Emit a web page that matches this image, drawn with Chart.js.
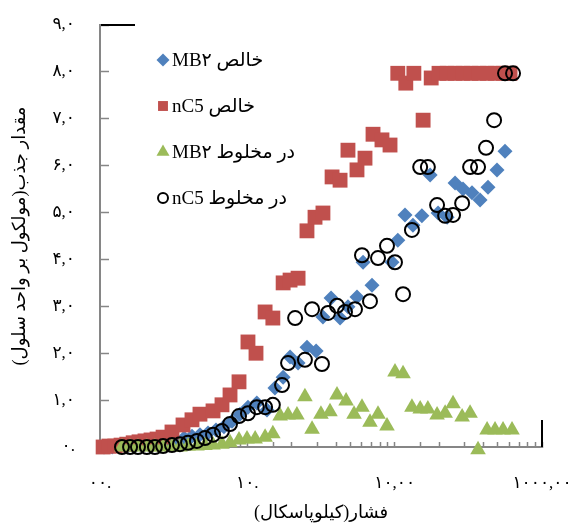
<!DOCTYPE html>
<html>
<head>
<meta charset="utf-8">
<script src="https://cdn.jsdelivr.net/npm/chart.js@4.4.1/dist/chart.umd.min.js"></script>
<style>
  html, body { margin: 0; padding: 0; background: #fff; }
  canvas { display: block; }
</style>
</head>
<body>
<canvas id="isoChart" width="581" height="525"></canvas>
<script>
// pressure (kPa) and loading (molecules per unit cell)
var seriesNames = ['MB۲ خالص', 'nC5 خالص', 'MB۲ در مخلوط', 'nC5 در مخلوط'];

var mb2PureP = [1.065, 1.21, 1.37, 1.55, 1.76, 1.99, 2.25, 2.55, 2.89, 3.28, 3.72, 4.21, 4.77, 5.41, 6.13, 6.94, 7.87, 8.92,
    10.1, 11.6, 13.6, 15.4, 17.5, 19.5, 22.1, 25.4, 29.3, 32.6,
    37.0, 42.6, 48.2, 55.5, 61.0, 70.2, 95.9, 105, 117.5, 133, 153,
    174, 197, 227, 257, 291, 335, 380, 430, 495, 561];
var mb2PureQ = [0, 0, 0.02, 0.02, 0.04, 0.06, 0.09, 0.11, 0.13, 0.15, 0.19, 0.23, 0.26, 0.30, 0.36, 0.43, 0.55, 0.70,
    0.85, 0.94, 0.79, 1.26, 1.49, 1.92, 1.79, 2.13, 2.05, 2.77,
    3.18, 2.75, 2.99, 3.20, 3.94, 3.45, 3.94, 4.41, 4.95, 4.73, 4.93,
    5.80, 4.99, 4.90, 5.63, 5.50, 5.42, 5.27, 5.54, 5.91, 6.31];

var nc5PureP = [1.05, 1.15, 1.26, 1.39, 1.52, 1.68, 1.84, 2.02, 2.22, 2.44, 2.68,
    3.08, 3.66, 4.21, 4.77, 5.85, 6.73, 7.63, 8.78,
    10.1, 11.45, 13.2, 14.9, 17.5, 19.5, 22.1, 25.4, 28.8, 32.6,
    37.6, 42.6, 48.2, 55.5, 62.9, 71.3, 82.0, 93.0,
    105, 119, 135, 156, 177, 200, 227, 257, 291, 330, 374, 424, 480, 544, 607];
var nc5PureQ = [0, 0.02, 0.02, 0.04, 0.06, 0.09, 0.11, 0.13, 0.15, 0.17, 0.21,
    0.32, 0.47, 0.58, 0.70, 0.77, 0.90, 1.11, 1.39,
    2.24, 2.00, 2.88, 2.75, 3.50, 3.56, 3.60, 4.61, 4.90, 4.99,
    5.76, 5.69, 6.33, 5.91, 6.16, 6.67, 6.55, 6.44,
    7.97, 7.76, 7.97, 6.97, 7.87, 7.97, 7.97, 7.97, 7.97, 7.97, 7.97, 7.97, 7.97, 7.97, 7.97];

var mb2MixP = [1.41, 1.60, 1.81, 2.08, 2.36, 2.68, 3.08, 3.49, 3.96, 4.55, 5.16, 5.85, 6.73, 7.63, 8.78,
    9.95, 11.3, 13.2, 14.9, 16.7, 18.9, 21.7, 24.6, 27.5, 31.6, 36.4, 40.6, 46.8, 53.0, 60.0, 68.0, 77.1, 88.7,
    100.5, 114, 131, 149, 168, 194, 220, 249, 287, 325, 368, 424, 480, 544, 626];
var mb2MixQ = [0, 0, 0, 0, 0, 0, 0, 0, 0.02, 0.02, 0.03, 0.04, 0.06, 0.09, 0.15,
    0.17, 0.17, 0.21, 0.28, 0.66, 0.68, 0.68, 1.07, 0.38, 0.70, 0.75, 1.11, 0.98, 0.70, 0.85, 0.53, 0.70, 0.45,
    1.60, 1.56, 0.85, 0.81, 0.81, 0.68, 0.72, 0.92, 0.64, 0.72, -0.06, 0.36, 0.36, 0.36, 0.36];

var nc5MixP = [1.41, 1.60, 1.81, 2.08, 2.36, 2.68, 3.08, 3.49, 3.96, 4.55,
    5.16, 5.85, 6.73, 7.63, 8.78, 10.1, 11.6, 13.2, 14.9, 17.2,
    18.9, 21.1, 24.6, 27.5, 32.1, 35.3, 40.6, 46.0, 53.8, 60.0,
    68.0, 77.1, 88.7, 100.5, 114, 131, 149, 168, 194, 220,
    249, 287, 325, 368, 417, 473, 561, 636];
var nc5MixQ = [0, 0, 0, 0, 0, 0.02, 0.04, 0.06, 0.09, 0.13,
    0.19, 0.26, 0.34, 0.49, 0.66, 0.72, 0.85, 0.85, 0.90, 1.32,
    1.79, 2.75, 1.86, 2.94, 1.77, 2.86, 3.01, 2.88, 2.94, 4.09,
    3.11, 4.03, 4.29, 3.94, 3.26, 4.63, 5.97, 5.97, 5.16, 4.93,
    4.95, 5.20, 5.97, 5.97, 6.38, 6.97, 7.97, 7.97];

var xTickValues = [1, 10, 100, 1000];
var xTickLabels = ['۰۰.', '۱۰.', '۱۰,۰۰', '۱۰۰۰,۰۰'];
var yTickLabels = ['۰.', '۱,۰', '۲,۰', '۳,۰', '۴,۰', '۵,۰', '۶,۰', '۷,۰', '۸,۰', '۹,۰'];

var xTitle = '\u200Fفشار(کیلوپاسکال)\u200F';
var yTitle = '\u200Fمقدار جذب(مولکول بر واحد سلول)\u200F';

function toPoints(xs, ys) {
    var pts = [];
    for (var i = 0; i < xs.length; i++) {
        pts.push({ x: xs[i], y: ys[i] });
    }
    return pts;
}

document.addEventListener('DOMContentLoaded', function() {
    var ctx = document.getElementById('isoChart').getContext('2d');
    var fontFamily = '"Liberation Serif", "DejaVu Sans", serif';
    var axisGrey = '#868686';

    // legend drawn in the upper left of the plot, like the original
    var sideLegend = {
        id: 'sideLegend',
        afterDraw: function(chart) {
            var c = chart.ctx;
            var area = chart.chartArea;
            var sizes = [6.5, 7, 7.5, 5];
            c.save();
            chart.data.datasets.forEach(function(ds, i) {
                var mx = area.left + 63;
                var my = area.top + 35 + i * 46;
                c.fillStyle = ds.backgroundColor;
                c.strokeStyle = ds.borderColor;
                c.lineWidth = ds.pointBorderWidth;
                Chart.helpers.drawPoint(c, {
                    pointStyle: ds.pointStyle,
                    radius: sizes[i],
                    rotation: 0,
                    borderWidth: ds.pointBorderWidth
                }, mx, my);
                c.fillStyle = '#000';
                c.font = '19px ' + fontFamily;
                c.textBaseline = 'middle';
                c.textAlign = 'left';
                c.fillText(ds.label, mx + 9, my + 1);
            });
            // leftover bits of the plot frame
            c.strokeStyle = '#000';
            c.lineWidth = 2;
            c.beginPath();
            c.moveTo(area.left + 1, area.top);
            c.lineTo(area.left + 35, area.top);
            c.moveTo(area.right, area.bottom);
            c.lineTo(area.right, area.bottom - 27);
            c.stroke();
            c.restore();
        }
    };

    new Chart(ctx, {
        type: 'scatter',
        data: {
            datasets: [
                {
                    label: seriesNames[0],
                    data: toPoints(mb2PureP, mb2PureQ),
                    pointStyle: 'rectRot',
                    pointRadius: 7.5,
                    backgroundColor: '#4F81BD',
                    borderColor: '#4F81BD',
                    pointBorderWidth: 0,
                    order: 4
                },
                {
                    label: seriesNames[1],
                    data: toPoints(nc5PureP, nc5PureQ),
                    pointStyle: 'rect',
                    pointRadius: 10.5,
                    backgroundColor: '#C0504D',
                    borderColor: '#C0504D',
                    pointBorderWidth: 0,
                    order: 3
                },
                {
                    label: seriesNames[2],
                    data: toPoints(mb2MixP, mb2MixQ),
                    pointStyle: 'triangle',
                    pointRadius: 9,
                    backgroundColor: '#9BBB59',
                    borderColor: '#9BBB59',
                    pointBorderWidth: 0,
                    order: 2
                },
                {
                    label: seriesNames[3],
                    data: toPoints(nc5MixP, nc5MixQ),
                    pointStyle: 'circle',
                    pointRadius: 7,
                    backgroundColor: 'rgba(0,0,0,0)',
                    borderColor: '#000',
                    pointBorderWidth: 2,
                    order: 1
                }
            ]
        },
        options: {
            responsive: false,
            animation: false,
            clip: false,
            layout: { padding: { top: 25, right: 39, left: 0, bottom: 0 } },
            plugins: {
                legend: { display: false },
                tooltip: { enabled: false }
            },
            scales: {
                x: {
                    type: 'logarithmic',
                    position: 'bottom',
                    min: 1,
                    max: 1000,
                    border: { color: axisGrey, width: 2 },
                    grid: { drawOnChartArea: false, tickLength: -5, color: axisGrey, tickWidth: 1.5 },
                    ticks: {
                        autoSkip: false,
                        maxRotation: 0,
                        padding: 31,
                        color: '#000',
                        font: { family: fontFamily, size: 17 },
                        callback: function(value) {
                            for (var i = 0; i < xTickValues.length; i++) {
                                if (Math.abs(value - xTickValues[i]) < 1e-6 * xTickValues[i]) return xTickLabels[i];
                            }
                            return '';
                        }
                    },
                    title: {
                        display: true,
                        text: xTitle,
                        color: '#000',
                        font: { family: fontFamily, size: 18 },
                        padding: { top: 0, bottom: 1 }
                    },
                    afterFit: function(scale) {
                        scale.height = 78;
                        scale.paddingLeft = 0;
                        scale.paddingRight = 0;
                    }
                },
                y: {
                    min: 0,
                    max: 9,
                    border: { color: axisGrey, width: 2 },
                    grid: { drawOnChartArea: false, tickLength: -9, color: axisGrey, tickWidth: 1.5 },
                    ticks: {
                        stepSize: 1,
                        padding: 34,
                        color: '#000',
                        font: { family: fontFamily, size: 17 },
                        callback: function(value) {
                            return yTickLabels[Math.round(value)];
                        }
                    },
                    title: {
                        display: true,
                        text: yTitle,
                        color: '#000',
                        font: { family: fontFamily, size: 18 },
                        padding: { top: 9, bottom: 0 }
                    },
                    afterFit: function(scale) {
                        scale.width = 100;
                        scale.paddingTop = 0;
                        scale.paddingBottom = 0;
                    }
                }
            }
        },
        plugins: [sideLegend]
    });
});
</script>
</body>
</html>
